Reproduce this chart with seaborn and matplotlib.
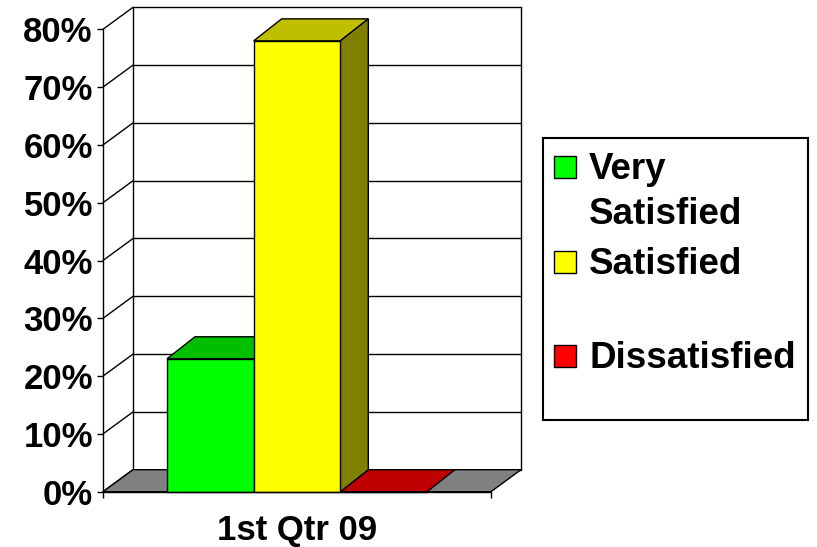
import matplotlib
matplotlib.use("Agg")
import matplotlib.pyplot as plt
from matplotlib.patches import Polygon, Rectangle
import numpy as np
import pandas as pd
import seaborn as sns

# data
quarters = ["1st Qtr 09"]
ratings = ["Very\nSatisfied", "Satisfied", "Dissatisfied"]
values = [0.23, 0.78, 0.0]
colors = ["#00FF00", "#FFFF00", "#FF0000"]
y_ticks = [0.0, 0.1, 0.2, 0.3, 0.4, 0.5, 0.6, 0.7, 0.8]
y_labels = ["0%", "10%", "20%", "30%", "40%", "50%", "60%", "70%", "80%"]

df = pd.DataFrame({"quarter": quarters * len(ratings), "rating": ratings, "value": values})

sns.set_style("white")
plt.rcParams['font.family'] = ['Liberation Sans', 'DejaVu Sans']
plt.rcParams['font.weight'] = 'bold'
plt.rcParams['text.color'] = 'black'
plt.rcParams['xtick.color'] = 'black'
plt.rcParams['ytick.color'] = 'black'

W, H = 817, 547
fig = plt.figure(figsize=(W / 100, H / 100), dpi=100)
fig.patch.set_facecolor("white")

def fx(px):
    return px / W

def fy(py):
    return 1 - py / H

# front plane: x 103..491 px, 0% at y=491.7, 578 px per 100%
UNIT_X = 388.0
UNIT_Y = 578.0
WDX = 30 / UNIT_X   # depth of walls
BDX = 28 / UNIT_X   # depth of bars
DY = 22 / UNIT_Y

ax = fig.add_axes([fx(103), fy(491.7), (521 - 103) / W, (0.8 + DY) * UNIT_Y / H])
ax.set_facecolor("none")

sns.barplot(data=df, x="quarter", y="value", hue="rating", hue_order=ratings,
            palette=dict(zip(ratings, colors)), width=0.67, errorbar=None,
            saturation=1, edgecolor="black", linewidth=1, legend=False, ax=ax)

ax.set_xlim(-0.5, 0.5 + WDX)
ax.set_ylim(0, 0.8 + DY)
for s in ax.spines.values():
    s.set_visible(False)

line_kw = dict(color="black", lw=1, clip_on=False, zorder=1.5)

# back wall gridlines and left wall diagonals
for v in y_ticks:
    ax.plot([-0.5 + WDX, 0.5 + WDX], [v + DY, v + DY], **line_kw)
    ax.plot([-0.5, -0.5 + WDX], [v, v + DY], **line_kw)
ax.plot([-0.5 + WDX, -0.5 + WDX], [DY, 0.8 + DY], **line_kw)
ax.plot([0.5 + WDX, 0.5 + WDX], [DY, 0.8 + DY], **line_kw)

# floor
floor = Polygon([(-0.5, 0), (0.5, 0), (0.5 + WDX, DY), (-0.5 + WDX, DY)],
                closed=True, facecolor="#808080", edgecolor="black", lw=1,
                clip_on=False, zorder=2)
ax.add_patch(floor)

# front axis line and floor edge
ax.plot([-0.5, -0.5], [0, 0.8], color="black", lw=1, clip_on=False, zorder=5)
ax.plot([-0.5, 0.5], [0, 0], color="black", lw=1, clip_on=False, zorder=5)

# 3d faces for bars
for cont in ax.containers:
    for rect in cont:
        x0, w, h = rect.get_x(), rect.get_width(), rect.get_height()
        fc = np.array(rect.get_facecolor()[:3])
        rect.set_zorder(4)
        rect.set_clip_on(False)
        top = Polygon([(x0, h), (x0 + w, h), (x0 + w + BDX, h + DY), (x0 + BDX, h + DY)],
                      closed=True, facecolor=fc * 0.75, edgecolor="black", lw=1,
                      clip_on=False, zorder=2.5)
        ax.add_patch(top)
        if h > 0:
            side = Polygon([(x0 + w, 0), (x0 + w + BDX, DY), (x0 + w + BDX, h + DY), (x0 + w, h)],
                           closed=True, facecolor=fc * 0.5, edgecolor="black", lw=1,
                           clip_on=False, zorder=3)
            ax.add_patch(side)

# ticks
ax.set_yticks(y_ticks)
ax.set_yticklabels(y_labels)
ax.tick_params(axis="y", which="major", direction="out", length=4.3, width=1,
               color="black", left=True, pad=3, labelsize=25)
ax.set_xticks([0])
ax.set_xticklabels(quarters)
ax.set_xticks([-0.5, 0.5], minor=True)
ax.tick_params(axis="x", which="major", length=0, pad=16, labelsize=25)
ax.tick_params(axis="x", which="minor", direction="out", length=4.3, width=1,
               color="black", bottom=True)
for lab in ax.get_xticklabels() + ax.get_yticklabels():
    lab.set_fontweight("bold")
ax.set_xlabel("")
ax.set_ylabel("")

# legend box
fig.add_artist(Rectangle((fx(543), fy(420)), (808 - 543) / W, (420 - 138) / H,
                         transform=fig.transFigure, facecolor="white",
                         edgecolor="black", lw=1.5))
base = 179
for i, (lab, col) in enumerate(zip(ratings, colors)):
    b = base + i * 94.5
    fig.add_artist(Rectangle((fx(554), fy(b - 1)), 22 / W, 22 / H,
                             transform=fig.transFigure, facecolor=col,
                             edgecolor="black", lw=1))
    for j, part in enumerate(lab.split("\n")):
        fig.text(fx(589), fy(b + j * 45), part, fontsize=26.5, fontweight="bold",
                 ha="left", va="baseline")

fig.savefig("out.png", dpi=100)
